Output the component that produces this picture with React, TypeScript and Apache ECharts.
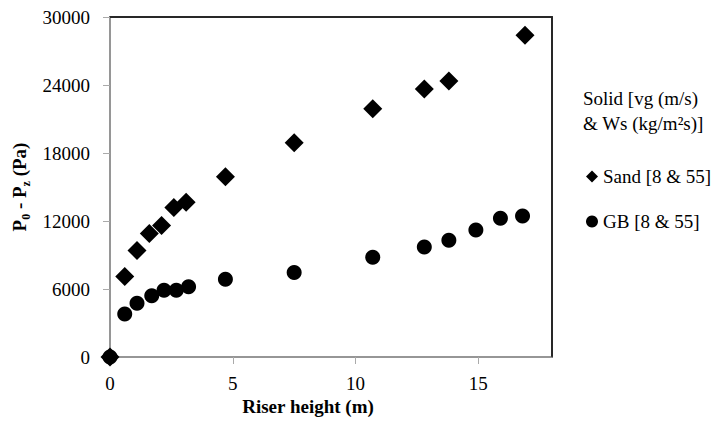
import React, { useEffect, useRef } from "react";
import * as echarts from "echarts";

const sandX = [0, 0.6, 1.1, 1.6, 2.1, 2.6, 3.1, 4.7, 7.5, 10.7, 12.8, 13.8, 16.9];
const sandY = [0, 7100, 9400, 10900, 11600, 13200, 13650, 15900, 18900, 21900, 23650, 24350, 28400];
const gbX = [0, 0.6, 1.1, 1.7, 2.2, 2.7, 3.2, 4.7, 7.5, 10.7, 12.8, 13.8, 14.9, 15.9, 16.8];
const gbY = [0, 3800, 4750, 5400, 5900, 5900, 6200, 6850, 7450, 8800, 9700, 10300, 11200, 12250, 12450];
const legendTitle = ["Solid [vg (m/s)", "& Ws (kg/m²s)]"];
const seriesNames = ["Sand [8 & 55]", "GB [8 & 55]"];

const FONT = "Liberation Serif";
const G = { left: 102, top: 9, width: 442, height: 340 };

export default function App() {
  const ref = useRef<HTMLDivElement>(null);
  useEffect(() => {
    if (!ref.current) return;
    const chart = echarts.init(ref.current, undefined, { renderer: "svg" });
    const sand = sandX.map((x, i) => [x, sandY[i]]);
    const gb = gbX.map((x, i) => [x, gbY[i]]);
    const frameAxis = {
      axisLine: { show: true, onZero: false, lineStyle: { color: "#262626", width: 1.5 } },
      axisTick: { show: false },
      axisLabel: { show: false },
      splitLine: { show: false },
    };
    chart.setOption({
      animation: false,
      grid: { ...G, outerBoundsMode: "none", show: true, borderColor: "#262626", borderWidth: 1.5 },
      xAxis: [
        {
          type: "value",
          min: 0,
          max: 18,
          interval: 5,
          splitLine: { show: false },
          axisLine: { onZero: false, lineStyle: { color: "#aaa", width: 1.5 } },
          axisTick: { show: true, length: 7, lineStyle: { color: "#aaa" } },
          axisLabel: { showMaxLabel: false, color: "#000", fontSize: 19, fontFamily: FONT, margin: 17 },
        },
        { type: "value", position: "top", min: 0, max: 18, interval: 5, ...frameAxis },
      ],
      yAxis: [
        {
          type: "value",
          min: 0,
          max: 30000,
          interval: 6000,
          splitLine: { show: false },
          axisLine: { show: true, onZero: false, lineStyle: { color: "#aaa", width: 1.5 } },
          axisTick: { show: true, length: 7, lineStyle: { color: "#aaa" } },
          axisLabel: {
            color: "#000",
            fontSize: 19,
            fontFamily: FONT,
            margin: 20,
            formatter: (v: number) => String(v),
          },
          name: "{b|P}{s|0}{b| - P}{s|z}{b| (Pa)}",
          nameLocation: "middle",
          nameGap: 70,
          nameRotate: 90,
          nameTextStyle: {
            rich: {
              b: { fontSize: 19, fontWeight: "bold", fontFamily: FONT, color: "#000", lineHeight: 24 },
              s: { fontSize: 12, fontWeight: "bold", fontFamily: FONT, color: "#000", lineHeight: 24, verticalAlign: "bottom", padding: [8, 0, 0, 0] },
            },
          },
        },
        { type: "value", position: "right", min: 0, max: 30000, interval: 6000, ...frameAxis },
      ],
      legend: {
        orient: "vertical",
        left: 573,
        top: 154,
        itemGap: 26,
        itemWidth: 12,
        itemHeight: 12,
        data: [
          { name: seriesNames[0], icon: "diamond" },
          { name: seriesNames[1], icon: "circle" },
        ],
        textStyle: { fontSize: 19, fontFamily: FONT, color: "#000" },
      },
      graphic: [
        {
          type: "polyline",
          z: 1,
          silent: true,
          shape: {
            points: [
              [G.left, G.top],
              [G.left + G.width, G.top],
              [G.left + G.width, G.top + G.height],
            ],
          },
          style: { stroke: "#262626", lineWidth: 1.5, fill: "none" },
        },
        {
          type: "text",
          left: 575,
          top: 78,
          style: {
            text: legendTitle.join("\n"),
            fontSize: 19,
            lineHeight: 25,
            fontFamily: FONT,
            fill: "#000",
          },
        },
        {
          type: "text",
          x: 300,
          y: 398,
          style: {
            text: "Riser height (m)",
            fontSize: 19,
            fontWeight: "bold",
            fontFamily: FONT,
            fill: "#000",
            align: "center",
            verticalAlign: "middle",
          },
        },
      ],
      series: [
        {
          name: seriesNames[0],
          type: "scatter",
          symbol: "diamond",
          symbolSize: 19,
          itemStyle: { color: "#000", opacity: 1 },
          data: sand,
        },
        {
          name: seriesNames[1],
          type: "scatter",
          symbol: "circle",
          symbolSize: 15,
          itemStyle: { color: "#000", opacity: 1 },
          data: gb,
        },
      ],
    });
    return () => chart.dispose();
  }, []);
  return <div ref={ref} style={{ width: 710, height: 413 }} />;
}
